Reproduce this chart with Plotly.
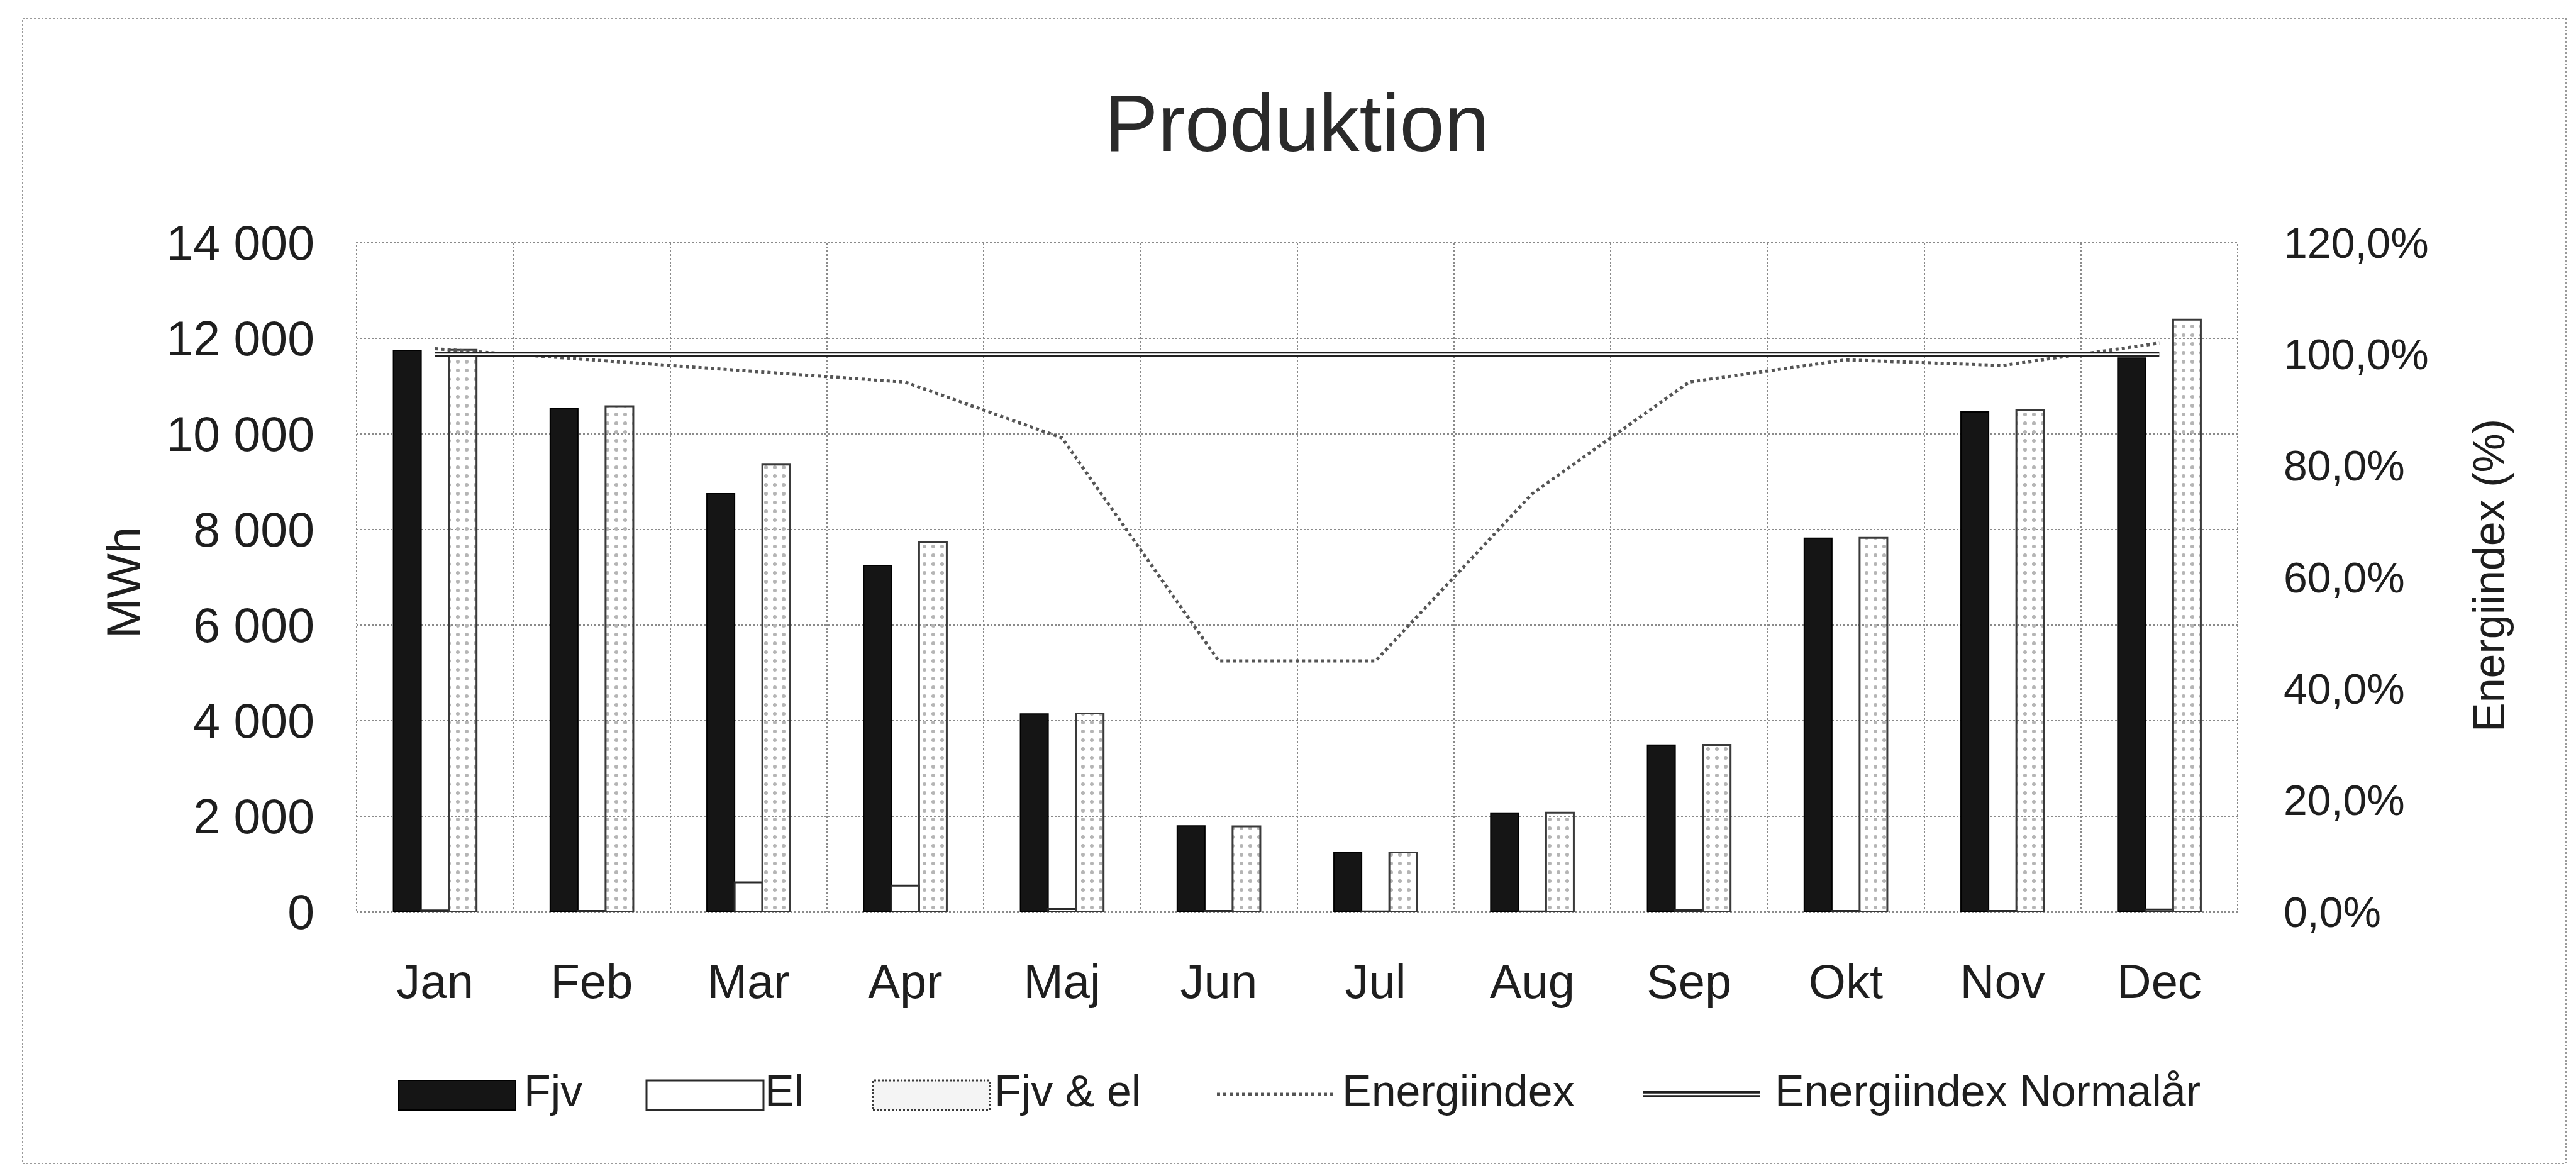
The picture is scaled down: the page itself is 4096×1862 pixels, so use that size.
import plotly.graph_objects as go

months = ["Jan", "Feb", "Mar", "Apr", "Maj", "Jun", "Jul", "Aug", "Sep", "Okt", "Nov", "Dec"]
fjv = [11750, 10530, 8750, 7250, 4140, 1800, 1240, 2070, 3490, 7820, 10460, 11590]
el = [30, 20, 620, 550, 60, 20, 10, 10, 40, 20, 20, 50]
fjv_el = [11760, 10580, 9360, 7740, 4150, 1790, 1245, 2075, 3495, 7825, 10500, 12390]
energiindex = [101, 99, 97, 95, 85, 45, 45, 75, 95, 99, 98, 102]
energiindex_normal = [100, 100, 100, 100, 100, 100, 100, 100, 100, 100, 100, 100]
legend_labels = ["Fjv", "El", "Fjv & el", "Energiindex", "Energiindex Normalår"]

OFF = 8  # page body margin
W, H = 4096 - 2 * OFF, 1862 - 2 * OFF
FONT = "Liberation Sans, Arial, sans-serif"
TXT = "#1e1e1e"
FJV_COL = "#151515"
BAR_LINE = "#2a2a2a"


def px(x):
    return (x - OFF) / W


def py(y):
    return 1 - (y - OFF) / H


fig = go.Figure()
fig.add_trace(go.Bar(name=legend_labels[0], x=months, y=fjv,
                     marker=dict(color=FJV_COL, line=dict(color="#000000", width=2))))
fig.add_trace(go.Bar(name=legend_labels[1], x=months, y=el,
                     marker=dict(color="#ffffff", line=dict(color=BAR_LINE, width=3))))
fig.add_trace(go.Bar(name=legend_labels[2], x=months, y=fjv_el,
                     marker=dict(color="#ffffff", line=dict(color="#3a3a3a", width=3),
                                 pattern=dict(shape=".", fgcolor="#b5b5b5", size=14, solidity=0.15))))
fig.add_trace(go.Scatter(name=legend_labels[3], x=months, y=energiindex, yaxis="y2", mode="lines",
                         line=dict(color="#555555", width=5, dash="dot")))
fig.add_trace(go.Scatter(name=legend_labels[4], x=months, y=energiindex_normal, yaxis="y2", mode="lines",
                         line=dict(color="#202020", width=8)))
fig.add_trace(go.Scatter(name=legend_labels[4], x=months, y=energiindex_normal, yaxis="y2", mode="lines",
                         line=dict(color="#ffffff", width=2), showlegend=False, hoverinfo="skip"))

fig.update_layout(
    template="none",
    width=W, height=H,
    margin=dict(l=0, r=0, t=0, b=0, pad=0, autoexpand=False),
    paper_bgcolor="white", plot_bgcolor="white",
    separators=", ",
    font=dict(family=FONT, color=TXT, size=70),
    barmode="group", bargap=0.47, bargroupgap=0.0,
    showlegend=False,
    title=dict(text="Produktion", x=px(2062), xanchor="center", y=py(195), yanchor="middle",
               font=dict(family=FONT, size=128, color="#2a2a2a")),
    xaxis=dict(type="category", domain=[px(567), px(3558)], tickfont=dict(size=76), showgrid=True,
               tickson="boundaries", gridcolor="#8a8a8a", griddash="dot", gridwidth=2, ticks="",
               showline=False, ticklabelstandoff=60, zeroline=False, automargin=False),
    yaxis=dict(domain=[py(1450), py(386)], range=[0, 14000], dtick=2000, tickformat=",d",
               tickfont=dict(size=77), showgrid=True, gridcolor="#8a8a8a", griddash="dot", gridwidth=2,
               ticks="", ticklabelstandoff=66, zeroline=False, showline=False, automargin=False),
    yaxis2=dict(range=[0, 120], dtick=20, tickformat=".1f", ticksuffix="%", overlaying="y", side="right",
                tickfont=dict(size=68), showgrid=False, ticks="", ticklabelstandoff=72, zeroline=False,
                automargin=False),
)

fig.add_annotation(text="MWh", xref="paper", yref="paper", x=px(196), y=py(927), showarrow=False,
                   textangle=-90, font=dict(size=76, color=TXT, family=FONT), xanchor="center", yanchor="middle")
fig.add_annotation(text="Energiindex (%)", xref="paper", yref="paper", x=px(3958), y=py(915), showarrow=False,
                   textangle=-90, font=dict(size=70, color=TXT, family=FONT), xanchor="center", yanchor="middle")

# plot area border (dotted) and outer chart border
fig.add_shape(type="rect", xref="x domain", yref="y domain", x0=0, x1=1, y0=0, y1=1,
              line=dict(color="#8a8a8a", width=2, dash="dot"), layer="below")
fig.add_shape(type="rect", xref="paper", yref="paper", x0=px(36), x1=px(4080), y0=py(1850), y1=py(29),
              line=dict(color="#9a9a9a", width=2, dash="dot"), layer="below")

# manual legend (symbols + labels)
sym_x = [634, 1028, 1388, 1935, 2613]
txt_x = [831, 1214, 1579, 2132, 2820]
sym_w = 186
LY = 1740
box_top, box_bot = 1718, 1765
fig.add_shape(type="rect", xref="paper", yref="paper", x0=px(sym_x[0]), x1=px(sym_x[0] + sym_w),
              y0=py(box_bot), y1=py(box_top), fillcolor=FJV_COL, line=dict(color="#000000", width=2))
fig.add_shape(type="rect", xref="paper", yref="paper", x0=px(sym_x[1]), x1=px(sym_x[1] + sym_w),
              y0=py(box_bot), y1=py(box_top), fillcolor="#ffffff", line=dict(color=BAR_LINE, width=3))
fig.add_shape(type="rect", xref="paper", yref="paper", x0=px(sym_x[2]), x1=px(sym_x[2] + sym_w),
              y0=py(box_bot), y1=py(box_top), fillcolor="#f4f4f4", line=dict(color="#3a3a3a", width=3, dash="dot"))
fig.add_shape(type="line", xref="paper", yref="paper", x0=px(sym_x[3]), x1=px(sym_x[3] + sym_w),
              y0=py(LY), y1=py(LY), line=dict(color="#555555", width=5, dash="dot"))
fig.add_shape(type="line", xref="paper", yref="paper", x0=px(sym_x[4]), x1=px(sym_x[4] + sym_w),
              y0=py(LY), y1=py(LY), line=dict(color="#202020", width=10))
fig.add_shape(type="line", xref="paper", yref="paper", x0=px(sym_x[4]), x1=px(sym_x[4] + sym_w),
              y0=py(LY), y1=py(LY), line=dict(color="#ffffff", width=2.5))
for lbl, tx in zip(legend_labels, txt_x):
    fig.add_annotation(text=lbl, xref="paper", yref="paper", x=px(tx), y=py(1735), showarrow=False,
                       xanchor="left", yanchor="middle", font=dict(size=70, color=TXT, family=FONT))

fig.write_html("out.html")
